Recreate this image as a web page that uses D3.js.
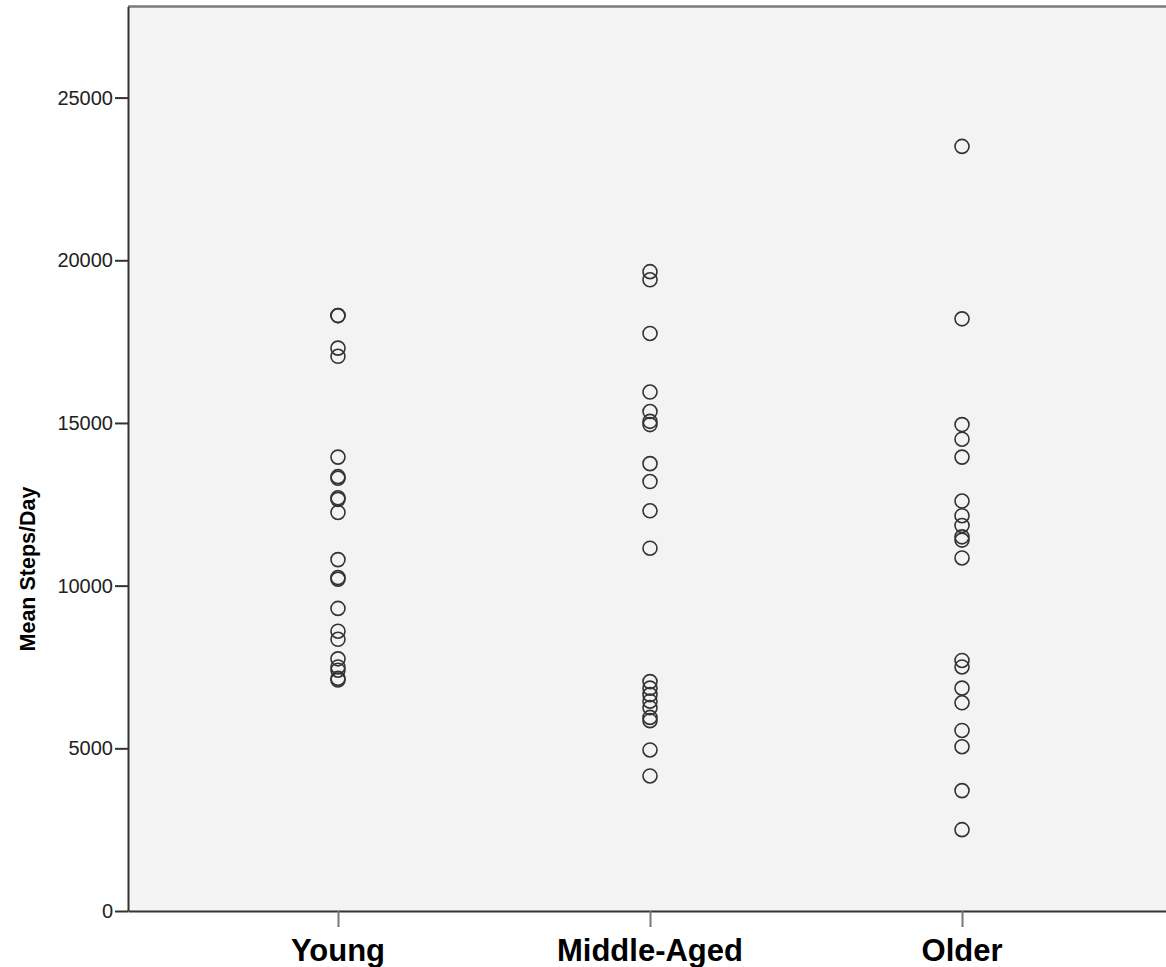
<!DOCTYPE html>
<html>
<head>
<meta charset="utf-8">
<script src="https://cdn.jsdelivr.net/npm/d3@7/dist/d3.min.js"></script>
<style>
  body { margin: 0; background: #fff; }
  svg { display: block; }
  text { font-family: "Liberation Sans", Arial, sans-serif; }
</style>
</head>
<body>
<svg id="chart" width="1166" height="967"></svg>
<script>
const categories = ["Young", "Middle-Aged", "Older"];

// mean steps per day
const young = [18300, 18300, 17300, 17050, 13950, 13350, 13300, 12700, 12650, 12250,
               10800, 10250, 10200, 9300, 8600, 8350, 7750, 7500, 7400, 7150, 7100];
const middleAged = [19650, 19400, 17750, 15950, 15350, 15050, 14950, 13750, 13200, 12300,
                    11150, 7050, 6850, 6650, 6450, 6250, 5950, 5850, 4950, 4150];
const older = [23500, 18200, 14950, 14500, 13950, 12600, 12150, 11850, 11500, 11400,
               10850, 7700, 7500, 6850, 6400, 5550, 5050, 3700, 2500];

const yTicks = [0, 5000, 10000, 15000, 20000, 25000];

const plotLeft = 128, plotRight = 1172, plotTop = 6.5, plotBottom = 911;

const svg = d3.select('#chart');

const x = d3.scalePoint().domain(categories).range([plotLeft, plotRight]).padding(0.673);
const y = d3.scaleLinear().domain([0, 27800]).range([plotBottom, plotTop]);

// plot background
svg.append('rect')
   .attr('x', plotLeft).attr('y', plotTop)
   .attr('width', plotRight - plotLeft).attr('height', plotBottom - plotTop)
   .attr('fill', '#f3f3f3');

// top frame line
svg.append('line')
   .attr('x1', plotLeft).attr('x2', plotRight)
   .attr('y1', plotTop).attr('y2', plotTop)
   .attr('stroke', '#7a7a7a').attr('stroke-width', 2.5);

// Y axis
const yAxis = svg.append('g')
   .attr('transform', 'translate(' + plotLeft + ',0)')
   .call(d3.axisLeft(y).tickValues(yTicks).tickSizeInner(13).tickSizeOuter(0)
           .tickPadding(2).tickFormat(d3.format('d')));
yAxis.select('.domain').attr('stroke', '#333').attr('stroke-width', 2);
yAxis.selectAll('.tick line').attr('stroke', '#333').attr('stroke-width', 2);
yAxis.selectAll('.tick text')
     .style('font-size', '20px').attr('fill', '#222');

// X axis
const xAxis = svg.append('g')
   .attr('transform', 'translate(0,' + plotBottom + ')')
   .call(d3.axisBottom(x).tickSizeInner(16).tickSizeOuter(0).tickPadding(0));
xAxis.select('.domain').attr('stroke', '#333').attr('stroke-width', 2);
xAxis.selectAll('.tick line').attr('stroke', '#777').attr('stroke-width', 2);
xAxis.selectAll('.tick text').remove();

// category labels
svg.append('g').selectAll('text')
   .data(categories)
   .join('text')
   .attr('x', d => x(d))
   .attr('y', 961)
   .attr('text-anchor', 'middle')
   .style('font-size', '31px').style('font-weight', 'bold')
   .attr('fill', '#000')
   .text(d => d);

// y title
svg.append('text')
   .attr('transform', 'translate(35,569)rotate(-90)')
   .attr('text-anchor', 'middle')
   .style('font-size', '21.5px').style('font-weight', 'bold')
   .attr('fill', '#000')
   .text('Mean Steps/Day');

// points
const series = [young, middleAged, older];
series.forEach((vals, i) => {
  svg.append('g').selectAll('circle')
     .data(vals)
     .join('circle')
     .attr('cx', x(categories[i]))
     .attr('cy', d => y(d))
     .attr('r', 7)
     .attr('fill', 'none')
     .attr('stroke', '#333')
     .attr('stroke-width', 1.6);
});
</script>
</body>
</html>
